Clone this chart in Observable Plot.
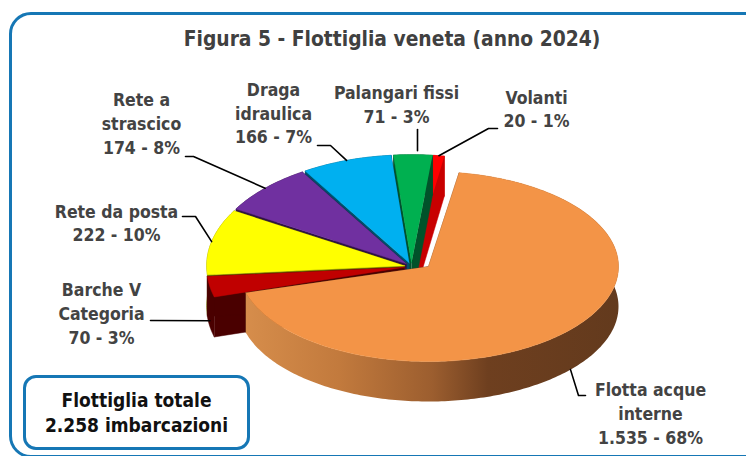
<!DOCTYPE html>
<html><head><meta charset="utf-8">
<script src="https://cdn.jsdelivr.net/npm/d3@7"></script>
<script src="https://cdn.jsdelivr.net/npm/@observablehq/plot@0.6"></script>
<style>
html,body{margin:0;padding:0;background:#fff;}
#wrap{position:relative;width:746px;height:456px;overflow:hidden;font-family:"DejaVu Sans Condensed","DejaVu Sans",sans-serif;}
#frame{position:absolute;left:9px;top:12px;width:760px;height:446px;box-sizing:border-box;border:3px solid #1677b5;border-radius:22px;}
#chart{position:absolute;left:0;top:0;}
#title{position:absolute;left:0;top:26px;width:784px;text-align:center;font-size:20.8px;font-weight:bold;color:#404040;line-height:26px;}
#total{position:absolute;left:23px;top:375px;width:227px;height:75px;box-sizing:border-box;border:3px solid #1677b5;border-radius:13px;background:#fff;display:flex;flex-direction:column;justify-content:center;align-items:center;font-size:19px;font-weight:bold;color:#111;line-height:25px;}
</style></head><body>
<div id="wrap">
  <div id="frame"></div>
  <div id="chart"></div>
  <div id="title">Figura 5 - Flottiglia veneta (anno 2024)</div>
  <div id="total"><div>Flottiglia totale</div><div id="totval"></div></div>
</div>
<script>
// ---- data ----
const categories = ["Barche V Categoria", "Rete da posta", "Rete a strascico", "Draga idraulica", "Palangari fissi", "Volanti", "Flotta acque interne"];
const labelLines = [["Barche V", "Categoria"], ["Rete da posta"], ["Rete a", "strascico"], ["Draga", "idraulica"], ["Palangari fissi"], ["Volanti"], ["Flotta acque", "interne"]];
const values = [70, 222, 174, 166, 71, 20, 1535];
const topColors = ["#c00000", "#ffff00", "#7030a0", "#00b0f0", "#00b050", "#ff0000", "#f39447"];
const sideColors = ["#4a0000", "#7a7a00", "#2e1242", "#004e6a", "#00522a", "#c80000", "#6a3c1e"];

// ---- layout ----
const W = 746, H = 456;
const startAngle = 254;            // degrees, clockwise from 12 o'clock
const smallPie = {cx: 411, cy: 266, rx: 198, ry: 108, explode: 7};
const bigPie = {cx: 428, cy: 266, rx: 190, ry: 95};
const depth = 40;
// label layout: center x, first line y, line height, leader points (from label side), anchor drop onto side wall
const labelLayout = [
  {x: 101, y: 290, lh: 24, lead: [[150, 320]], drop: 34},
  {x: 116, y: 212, lh: 23, lead: [[182, 216], [195, 216]], drop: 0},
  {x: 141, y: 100, lh: 24, lead: [[185, 156], [193, 156]], drop: 0},
  {x: 273, y: 90, lh: 23.5, lead: [[317, 145], [330, 145]], drop: 0},
  {x: 396, y: 93, lh: 24, lead: [[417, 129]], drop: 0, vertical: true},
  {x: 536, y: 98, lh: 23, lead: [[497, 128], [488, 128]], drop: 0},
  {x: 650, y: 390, lh: 24, lead: [[585, 395], [578, 395]], drop: 40}
];

const total = d3.sum(values);
const itFmt = d3.formatLocale({decimal: ",", thousands: ".", grouping: [3], currency: ["", "€"]}).format(",d");
document.getElementById("totval").textContent = itFmt(total) + " imbarcazioni";

const rad = d => d * Math.PI / 180;
const angles = [];
{
  let a = startAngle;
  values.forEach(v => { const b = a + v / total * 360; angles.push([a, b]); a = b; });
}

function sliceGeom(i) {
  const [a, b] = angles[i];
  const mid = (a + b) / 2;
  let cx, cy, rx, ry;
  if (i === values.length - 1) { ({cx, cy, rx, ry} = bigPie); }
  else {
    ({rx, ry} = smallPie);
    cx = smallPie.cx + smallPie.explode * Math.sin(rad(mid));
    cy = smallPie.cy - smallPie.explode * Math.cos(rad(mid)) * ry / rx;
  }
  const P = t => [cx + rx * Math.sin(rad(t)), cy - ry * Math.cos(rad(t))];
  const n = Math.max(2, Math.ceil((b - a) / 1));
  const arc = d3.range(n + 1).map(k => P(a + (b - a) * k / n));
  return {a, b, mid, cx, cy, rx, ry, P, arc};
}

// polygons: draw order back to front (Volanti ... Barche, then Flotta)
const polys = [];
const gradPolys = [];
let pid = 0;
function addPoly(arr, pts, fill) {
  const id = pid++;
  pts.forEach(([x, y]) => arr.push({id, x, y, fill}));
}
const drawOrder = [5, 4, 3, 2, 1, 0];
const geoms = values.map((_, i) => sliceGeom(i));
const down = ([x, y]) => [x, y + depth];
for (const i of drawOrder) {
  const g = geoms[i];
  const V = [g.cx, g.cy];
  const A = g.arc[0], B = g.arc[g.arc.length - 1];
  addPoly(polys, [V, A, down(A), down(V)], sideColors[i]);
  addPoly(polys, [V, B, down(B), down(V)], sideColors[i]);
  addPoly(polys, [...g.arc, ...g.arc.slice().reverse().map(down)], sideColors[i]);
  addPoly(polys, [V, ...g.arc], topColors[i]);
}
// big slice
const big = geoms[values.length - 1];
const bigWalls = [], bigTop = [];
{
  const g = big, V = [g.cx, g.cy];
  const A = g.arc[0], B = g.arc[g.arc.length - 1];
  const i = values.length - 1;
  addPoly(bigWalls, [V, A, down(A), down(V)], sideColors[i]);
  addPoly(bigWalls, [V, B, down(B), down(V)], sideColors[i]);
  addPoly(gradPolys, [...g.arc, ...g.arc.slice().reverse().map(down)], "url(#orangeSide)");
  addPoly(bigTop, [V, ...g.arc], topColors[i]);
}
// rim highlight on front of the big slice
const rim = [];
{
  const g = big;
  const from = Math.max(g.a, 92), to = Math.min(g.b, 252);
  d3.range(from, to + 0.01, 1).forEach(t => { const p = g.P(t); rim.push({x: p[0], y: p[1] + 1.5}); });
}

// labels and leaders
const textRows = [];
const leaders = [];
values.forEach((v, i) => {
  const L = labelLayout[i];
  const pct = Math.round(v / total * 100);
  const lines = [...labelLines[i], `${itFmt(v)} - ${pct}%`];
  lines.forEach((t, k) => textRows.push({x: L.x, y: L.y + k * L.lh, text: t}));
  const g = geoms[i];
  const p = g.P(g.mid);
  let anchor = [p[0], p[1] + L.drop];
  if (L.vertical) anchor = [L.lead[0][0], p[1] - 4];
  [...L.lead, anchor].forEach(([x, y]) => leaders.push({id: i, x, y}));
});

const fontFamily = '"DejaVu Sans Condensed","DejaVu Sans",sans-serif';
const chart = Plot.plot({
  width: W, height: H, margin: 0,
  x: {domain: [0, W], range: [0, W], axis: null},
  y: {domain: [0, H], range: [0, H], axis: null},
  color: {type: "identity"},
  style: {background: "transparent", fontFamily},
  marks: [
    Plot.line(polys, {x: "x", y: "y", z: "id", fill: "fill", stroke: "fill", strokeWidth: 0.5, curve: "linear"}),
    Plot.line(bigWalls, {x: "x", y: "y", z: "id", fill: "fill", stroke: "fill", strokeWidth: 0.5, curve: "linear"}),
    Plot.line(gradPolys, {x: "x", y: "y", z: "id", fill: "url(#orangeSide)", stroke: "none", curve: "linear"}),
    Plot.line(bigTop, {x: "x", y: "y", z: "id", fill: "fill", stroke: "fill", strokeWidth: 0.5, curve: "linear"}),
    Plot.line(rim, {x: "x", y: "y", stroke: "#f9b57c", strokeWidth: 2, strokeOpacity: 0.8, curve: "linear"}),
    Plot.line(leaders, {x: "x", y: "y", z: "id", stroke: "#000", strokeWidth: 1.6, curve: "linear"}),
    Plot.text(textRows, {x: "x", y: "y", text: "text", fontSize: 17.5, fontWeight: "bold", fill: "#434343", textAnchor: "middle", lineAnchor: "middle"})
  ]
});
const defs = d3.select(chart).insert("defs", ":first-child");
const lg = defs.append("linearGradient").attr("id", "orangeSide").attr("x1", 0).attr("x2", 1).attr("y1", 0).attr("y2", 0);
[[0, "#d68d4b"], [0.25, "#c27a3d"], [0.5, "#9c5e2f"], [0.65, "#6e3f1f"], [1, "#633a1d"]].forEach(([o, c]) =>
  lg.append("stop").attr("offset", o).attr("stop-color", c));
document.getElementById("chart").appendChild(chart);
</script>
</body></html>
